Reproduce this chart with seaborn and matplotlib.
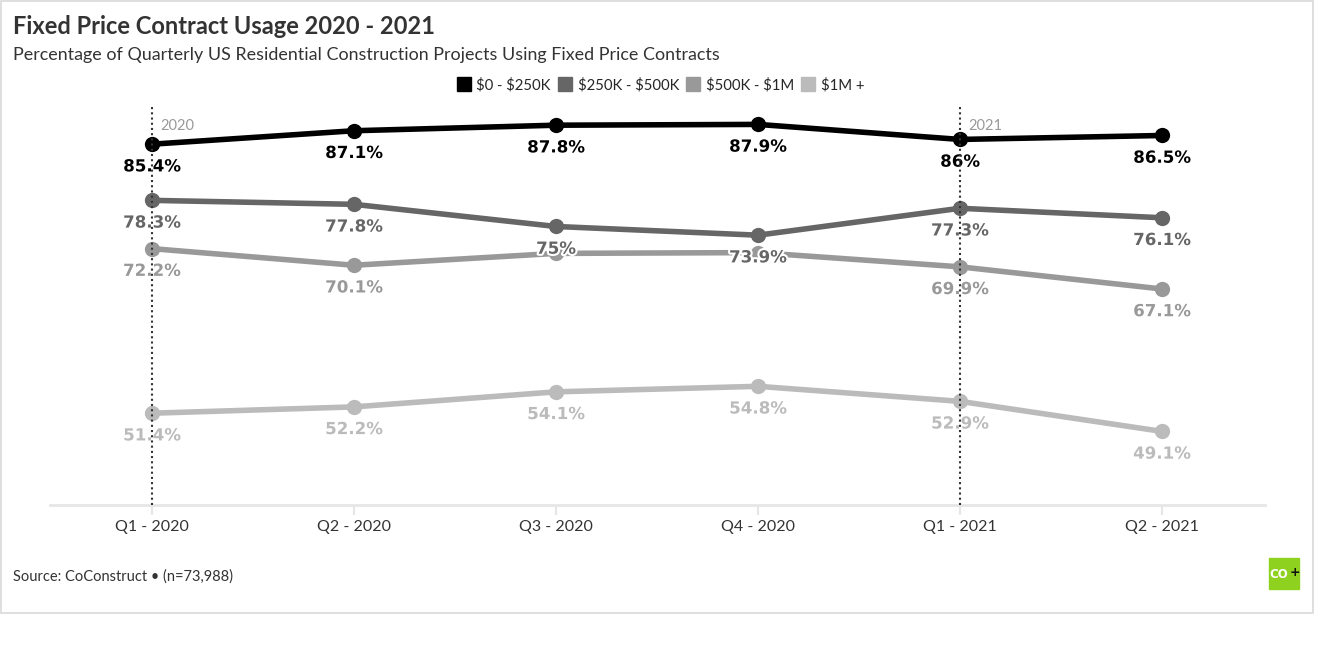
import pandas as pd
import matplotlib.pyplot as plt
import matplotlib.patheffects as pe
from matplotlib.lines import Line2D
from matplotlib.patches import Rectangle
import seaborn as sns

sns.set_theme(style="white")

# Datos
trimestres = ["Q1 - 2020", "Q2 - 2020", "Q3 - 2020", "Q4 - 2020", "Q1 - 2021", "Q2 - 2021"]
rangos = ["$0 - $250K", "$250K - $500K", "$500K - $1M", "$1M +"]
valores_0_250k = [85.4, 87.1, 87.8, 87.9, 86.0, 86.5]
valores_250k_500k = [78.3, 77.8, 75.0, 73.9, 77.3, 76.1]
valores_500k_1m = [72.2, 70.1, 71.6, 71.7, 69.9, 67.1]
valores_1m_mas = [51.4, 52.2, 54.1, 54.8, 52.9, 49.1]
# etiquetas ocultas en el original por solaparse
mostrar_500k_1m = [True, True, False, False, True, True]
anios = ["2020", "2021"]
anio_pos = [0, 4]

colores = ["#000000", "#666666", "#999999", "#bbbbbb"]
series = [valores_0_250k, valores_250k_500k, valores_500k_1m, valores_1m_mas]
mostrar = [[True] * 6, [True] * 6, mostrar_500k_1m, [True] * 6]

filas = []
for rango, vals in zip(rangos, series):
    for i, v in enumerate(vals):
        filas.append({"x": i, "trimestre": trimestres[i], "rango": rango, "valor": v})
df = pd.DataFrame(filas)

fig = plt.figure(figsize=(13.21, 6.5), dpi=100)
ax = fig.add_axes([50 / 1321, 1 - 505 / 650, 1215 / 1321, 398 / 650])

sns.lineplot(data=df, x="x", y="valor", hue="rango", palette=colores, hue_order=rangos,
             marker="o", markersize=11, markeredgewidth=0, linewidth=4, legend=False, ax=ax)

# Etiquetas de valores
for vals, color, flags in zip(series, colores, mostrar):
    for i, (v, f) in enumerate(zip(vals, flags)):
        if not f:
            continue
        txt = f"{v:g}%"
        ax.annotate(txt, (i, v), xytext=(0, -16), textcoords="offset points",
                    ha="center", va="center", fontsize=12, fontweight="bold",
                    color=color, family="DejaVu Sans", zorder=5,
                    path_effects=[pe.withStroke(linewidth=3, foreground="white")])

# Líneas de año
for anio, pos in zip(anios, anio_pos):
    ax.axvline(pos, color="#333333", linestyle=(0, (1, 1.5)), linewidth=1.5, zorder=6)
    ax.annotate(anio, (pos, 1), xycoords=("data", "axes fraction"), xytext=(6, -13.5),
                textcoords="offset points", ha="left", va="center", fontsize=10.5,
                color="#999999", family="Lato")

ax.set_xlim(-0.505, 5.51)
ax.set_ylim(39.8, 90.1)
ax.set_xticks(range(len(trimestres)))
ax.set_xticklabels(trimestres, fontsize=11.5, color="#333333", family="Lato")
ax.set_yticks([])
ax.set_xlabel("")
ax.set_ylabel("")
for lado in ["top", "left", "right"]:
    ax.spines[lado].set_visible(False)
ax.spines["bottom"].set_color("#e6e6e6")
ax.spines["bottom"].set_linewidth(2)
ax.tick_params(axis="x", bottom=True, length=7, width=1.5, color="#e6e6e6", pad=4)

# Título y subtítulo
fig.text(13 / 1321, 1 - 27 / 650, "Fixed Price Contract Usage 2020 - 2021", fontsize=17,
         fontweight="bold", color="#333333", family="Lato", va="center")
fig.text(13 / 1321, 1 - 55 / 650,
         "Percentage of Quarterly US Residential Construction Projects Using Fixed Price Contracts",
         fontsize=12.9, color="#333333", family="Lato", va="center")

# Leyenda
handles = [Line2D([], [], marker="s", linestyle="", markersize=10.5, color=c) for c in colores]
etiquetas = [r.replace("$", r"\$") for r in rangos]
fig.legend(handles, etiquetas, loc="center", bbox_to_anchor=(661 / 1321, 1 - 85 / 650), ncol=4,
           frameon=False, handlelength=0.8, handletextpad=0.45, columnspacing=0.55,
           prop={"family": "Lato", "size": 10.7})

# Fuente
fig.text(13 / 1321, 1 - 577 / 650, "Source: CoConstruct \u2022 (n=73,988)", fontsize=10.5,
         color="#333333", family="Lato", va="center")

# Logo
fig.patches.append(Rectangle((1269 / 1321, 1 - 589 / 650), 30 / 1321, 31 / 650,
                             transform=fig.transFigure, color="#8ed21f"))
fig.text(1279 / 1321, 1 - 574 / 650, "CO", fontsize=8.5, fontweight="bold", color="white",
         ha="center", va="center", family="DejaVu Sans")
fig.text(1294.5 / 1321, 1 - 573 / 650, "+", fontsize=9, fontweight="bold", color="#111111",
         ha="center", va="center", family="DejaVu Sans")

# Borde
fig.patches.append(Rectangle((0.5 / 1321, 1 - 613 / 650), 1312 / 1321, 612.5 / 650,
                             transform=fig.transFigure, fill=False, edgecolor="#d9d9d9",
                             linewidth=1.2))

fig.savefig("out.png", dpi=100)
